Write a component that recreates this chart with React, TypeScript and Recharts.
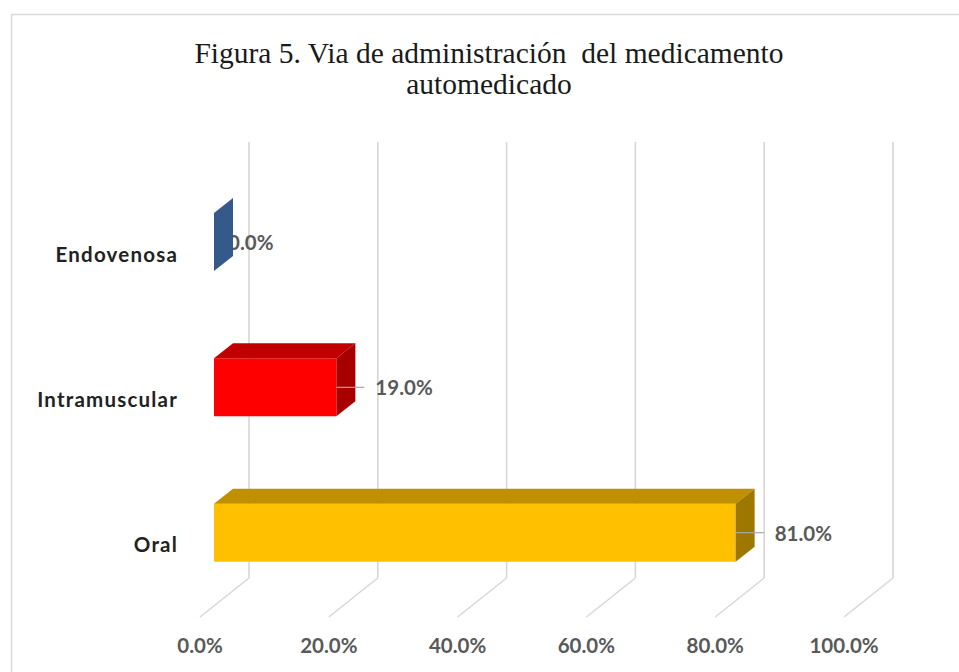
import { BarChart, Bar, XAxis, YAxis, CartesianGrid } from 'recharts'

const categories = ['Endovenosa', 'Intramuscular', 'Oral']
const percentages = [0, 19, 81]
const xTicks = [0, 20, 40, 60, 80, 100]

const titleLines = ['Figura 5. Via de administración  del medicamento', 'automedicado']

// front / top / side shades per category
const PALETTE = [
  { front: '#4472C4', top: '#2F5597', side: '#34598A' },
  { front: '#FF0000', top: '#C00000', side: '#A80000' },
  { front: '#FFC000', top: '#BF9000', side: '#9E7700' },
]

const data = categories.map((name, i) => ({ name, value: percentages[i] }))

const W = 959
const H = 672
const DEPTH = { dx: 19, dy: -15 }
const WALL = { dx: 49, dy: -39 }

function fmt(v: number) {
  return `${v.toFixed(1)}%`
}

function Bar3D(props: any) {
  const { x, y, width, height, index, payload } = props
  const c = PALETTE[index]
  const fx = x + 14
  const fy = y - 12
  const w = Math.max(width || 0, 0)
  const h = height
  const { dx, dy } = DEPTH
  const pts = (a: number[][]) => a.map((p) => p.join(',')).join(' ')
  const midY = fy + h / 2
  const v = payload.value as number
  const labelX = v > 0 ? fx + w + 39 : fx + 14
  return (
    <g>
      <text
        x={labelX}
        y={midY}
        dominantBaseline="central"
        fontFamily="Lato, sans-serif"
        fontWeight={700}
        fontSize={20.5}
        fill="#595959"
      >
        {fmt(v)}
      </text>
      {w > 0 && (
        <polygon points={pts([[fx, fy], [fx + w, fy], [fx + w, fy + h], [fx, fy + h]])} fill={c.front} />
      )}
      {w > 0 && (
        <polygon points={pts([[fx, fy], [fx + dx, fy + dy], [fx + w + dx, fy + dy], [fx + w, fy]])} fill={c.top} />
      )}
      <polygon
        points={pts([[fx + w, fy], [fx + w + dx, fy + dy], [fx + w + dx, fy + h + dy], [fx + w, fy + h]])}
        fill={c.side}
      />
      {v > 0 && (
        <line x1={fx + w} y1={midY} x2={fx + w + 28} y2={midY} stroke="#a6a6a6" strokeWidth={1.2} />
      )}
    </g>
  )
}

function WallLine(props: any) {
  const { x1, y1, y2, index } = props
  const bx = x1 + WALL.dx
  return (
    <g key={`wall-${index}`}>
      <line x1={bx} y1={y1 + WALL.dy} x2={bx} y2={y2 + WALL.dy} stroke="#d6d6d6" strokeWidth={1.6} />
      <line x1={bx} y1={y2 + WALL.dy} x2={x1} y2={y2} stroke="#d6d6d6" strokeWidth={1.4} />
    </g>
  )
}

function CategoryTick(props: any) {
  const { y, payload } = props
  return (
    <text
      x={178}
      y={y}
      textAnchor="end"
      dominantBaseline="central"
      fontFamily="Lato, sans-serif"
      fontWeight={700}
      fontSize={20.5}
      letterSpacing={1.2}
      fill="#222222"
    >
      {payload.value}
    </text>
  )
}

function ValueTick(props: any) {
  const { x, payload } = props
  return (
    <text
      x={x}
      y={653}
      textAnchor="middle"
      fontFamily="Lato, sans-serif"
      fontWeight={700}
      fontSize={20.5}
      fill="#595959"
    >
      {fmt(payload.value)}
    </text>
  )
}

export default function App() {
  return (
    <div style={{ position: 'absolute', left: 0, top: 0, width: W, height: H, background: '#fff' }}>
      <svg width={W} height={H} style={{ position: 'absolute', left: 0, top: 0 }}>
        <rect x={11.5} y={14.5} width={1000} height={700} fill="#fff" stroke="#d9d9d9" strokeWidth={1.5} />
        {titleLines.map((t, i) => (
          <text
            key={i}
            x={489}
            y={63 + i * 31}
            textAnchor="middle"
            fontFamily="'Liberation Serif', 'Times New Roman', serif"
            fontSize={29.5}
            fill="#1a1a1a"
            style={{ whiteSpace: 'pre' }}
          >
            {t}
          </text>
        ))}
      </svg>
      <div style={{ position: 'absolute', left: 0, top: 0 }}>
        <BarChart
          width={W}
          height={H}
          data={data}
          layout="vertical"
          margin={{ top: 181, right: 115, bottom: 25, left: 0 }}
          barSize={58}
        >
          <CartesianGrid horizontal={false} vertical={(p: any) => <WallLine {...p} />} />
          <XAxis
            type="number"
            domain={[0, 100]}
            ticks={xTicks}
            height={30}
            axisLine={false}
            tickLine={false}
            tick={<ValueTick />}
            interval={0}
          />
          <YAxis
            type="category"
            dataKey="name"
            width={200}
            axisLine={false}
            tickLine={false}
            tick={<CategoryTick />}
          />
          <Bar dataKey="value" shape={<Bar3D />} isAnimationActive={false} />
        </BarChart>
      </div>
    </div>
  )
}
